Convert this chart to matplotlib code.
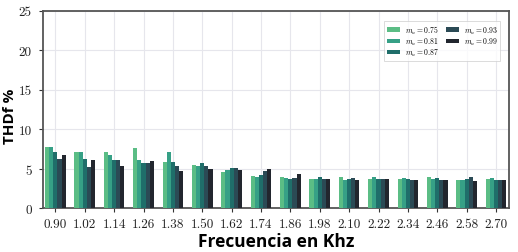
import matplotlib
matplotlib.use("Agg")
import matplotlib.pyplot as plt
import numpy as np

freqs = ["0.90", "1.02", "1.14", "1.26", "1.38", "1.50", "1.62", "1.74",
         "1.86", "1.98", "2.10", "2.22", "2.34", "2.46", "2.58", "2.70"]
labels = [r"$m_a = 0.75$", r"$m_a = 0.81$", r"$m_a = 0.87$", r"$m_a = 0.93$", r"$m_a = 0.99$"]
ma_075 = [7.75, 7.16, 7.16, 7.63, 5.85, 5.50, 4.58, 4.15, 3.94, 3.77, 3.94, 3.77, 3.69, 3.98, 3.64, 3.69]
ma_081 = [7.75, 7.16, 6.74, 6.14, 7.12, 5.42, 4.87, 3.98, 3.90, 3.77, 3.60, 3.98, 3.90, 3.73, 3.60, 3.90]
ma_087 = [7.20, 6.27, 6.10, 5.76, 5.85, 5.76, 5.17, 4.28, 3.73, 3.94, 3.73, 3.77, 3.69, 3.86, 3.73, 3.60]
ma_093 = [6.23, 5.21, 6.10, 5.76, 5.34, 5.34, 5.17, 4.75, 3.90, 3.73, 3.81, 3.73, 3.64, 3.64, 3.94, 3.60]
ma_099 = [6.74, 6.10, 5.34, 6.00, 4.75, 4.96, 4.87, 4.96, 4.36, 3.73, 3.60, 3.73, 3.64, 3.56, 3.52, 3.56]
series = [ma_075, ma_081, ma_087, ma_093, ma_099]
colors = ["#5bbd85", "#36a086", "#1f6e6a", "#2b4a55", "#22262e"]

plt.rcParams["mathtext.fontset"] = "cm"

fig = plt.figure(figsize=(5.18, 2.53), dpi=100)
ax = fig.add_axes([0.0825, 0.172, 0.8995, 0.781])

x = np.arange(len(freqs))
w = 0.14
for i, (vals, c, lab) in enumerate(zip(series, colors, labels)):
    ax.bar(x + (i - 2) * w, vals, width=w, color=c, label=lab, zorder=3)

ax.set_xlim(-0.43, len(freqs) - 1 + 0.43)
ax.set_ylim(0, 25)
ax.set_yticks([0, 5, 10, 15, 20, 25])
ax.set_xticks(x)
ax.set_xticklabels(freqs)
ax.grid(True, color="#e6e6ec", linewidth=0.8, zorder=0)
ax.set_axisbelow(True)
for s in ax.spines.values():
    s.set_color("#555555")
    s.set_linewidth(1.3)
ax.tick_params(axis="y", length=3, width=0.8, color="#333333", labelsize=9.5, pad=5)
ax.tick_params(axis="x", length=3, width=0.8, color="#333333", labelsize=9.5, pad=4)
for lbl in ax.get_xticklabels() + ax.get_yticklabels():
    lbl.set_fontfamily("cmr10")
    lbl.set_color("#222222")

ax.set_xlabel("Frecuencia en Khz", fontfamily="Open Sans", fontweight="bold", fontsize=12.5)
ax.set_ylabel("THDf %", fontfamily="Open Sans", fontweight="bold", fontsize=11)
ax.xaxis.set_label_coords(0.5, -0.118)
ax.yaxis.set_label_coords(-0.056, 0.47)

leg = ax.legend(ncol=2, loc="upper right", fontsize=5.5, frameon=True, fancybox=False,
                edgecolor="#cccccc", handlelength=1.75, handleheight=0.5,
                columnspacing=0.9, borderpad=0.35, labelspacing=0.0, handletextpad=0.6,
                bbox_to_anchor=(0.99, 0.97))
leg.get_frame().set_linewidth(0.6)

fig.savefig("out.png", dpi=100)
